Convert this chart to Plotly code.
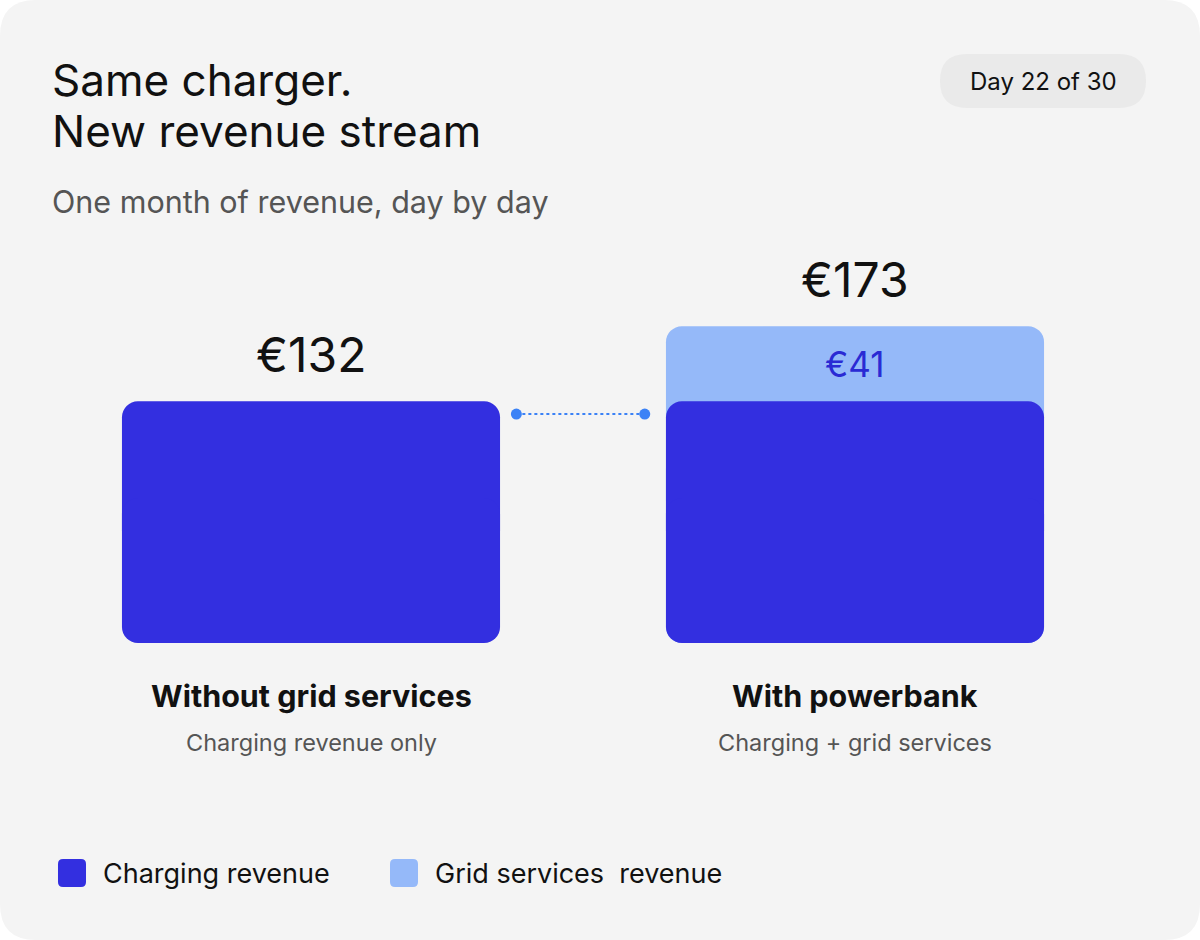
import plotly.graph_objects as go

# data
categories = ["Without grid services", "With powerbank"]
subtitles = ["Charging revenue only", "Charging + grid services"]
charging = [132, 132]
grid = [0, 41]
total = [c + g for c, g in zip(charging, grid)]

W, H = 1200, 940
DARK = "#332fe0"
LIGHT = "#95b9f9"
CARD = "#f4f4f4"
FONT = "Inter"

bar_w = 0.695
xpos = list(range(len(categories)))


def rrect(x0, y0, x1, y1, r):
    # rounded rect path given in pixels (top-left origin), drawn in paper coords
    def p(x, y):
        return f"{x / W:.5f},{1 - y / H:.5f}"
    return (f"M {p(x0 + r, y0)} L {p(x1 - r, y0)} Q {p(x1, y0)} {p(x1, y0 + r)} "
            f"L {p(x1, y1 - r)} Q {p(x1, y1)} {p(x1 - r, y1)} "
            f"L {p(x0 + r, y1)} Q {p(x0, y1)} {p(x0, y1 - r)} "
            f"L {p(x0, y0 + r)} Q {p(x0, y0)} {p(x0 + r, y0)} Z")


fig = go.Figure()


def rounded_bar(x, v, color):
    # two overlapping halves so both the top and bottom ends get rounded corners
    fig.add_trace(go.Bar(x=x, y=[0.6 * a for a in v], base=[0.4 * a for a in v], width=bar_w,
                         marker=dict(color=color, cornerradius=16, line_width=0),
                         hoverinfo="skip", showlegend=False))
    fig.add_trace(go.Bar(x=x, y=[-0.6 * a for a in v], base=[0.6 * a for a in v], width=bar_w,
                         marker=dict(color=color, cornerradius=16, line_width=0),
                         hoverinfo="skip", showlegend=False))


# grid services sits behind, charging on top
gx = [x for x, g in zip(xpos, grid) if g > 0]
gt = [t for t, g in zip(total, grid) if g > 0]
rounded_bar(gx, gt, LIGHT)
rounded_bar(xpos, charging, DARK)

# dotted link between the two charging bars
link_y = charging[0] - 7
fig.add_trace(go.Scatter(x=[xpos[0] + bar_w / 2 + 0.03, xpos[1] - bar_w / 2 - 0.039], y=[link_y, link_y],
                         mode="lines+markers", line=dict(color="#3b82f6", width=2, dash="dot"),
                         marker=dict(color="#3b82f6", size=11), hoverinfo="skip", showlegend=False))

ann = []
for i, x in enumerate(xpos):
    ann.append(dict(x=x, y=total[i], text=f"€{total[i]}", showarrow=False, yshift=47, yanchor="middle",
                    font=dict(size=48, color="#111111", family=FONT)))
    if grid[i] > 0:
        ann.append(dict(x=x, y=(charging[i] + total[i]) / 2, text=f"€{grid[i]}", showarrow=False,
                        yanchor="middle", font=dict(size=35, color="#2a2ad4", family=FONT)))
    ann.append(dict(x=x, y=1 - 695 / H, yref="paper", yanchor="middle", text=f"<b>{categories[i]}</b>",
                    showarrow=False, font=dict(size=30.5, color="#111111", family=FONT)))
    ann.append(dict(x=x, y=1 - 742 / H, yref="paper", yanchor="middle", text=subtitles[i], showarrow=False,
                    font=dict(size=23.5, color="#555555", family=FONT)))

# title, subtitle, badge
ann.append(dict(x=50 / W, y=1 - 80 / H, xref="paper", yref="paper", xanchor="left", yanchor="middle",
                text="Same charger.", showarrow=False, font=dict(size=44, color="#111111", family=FONT)))
ann.append(dict(x=50 / W, y=1 - 131 / H, xref="paper", yref="paper", xanchor="left", yanchor="middle",
                text="New revenue stream", showarrow=False, font=dict(size=44, color="#111111", family=FONT)))
ann.append(dict(x=50 / W, y=1 - 201 / H, xref="paper", yref="paper", xanchor="left", yanchor="middle",
                text="One month of revenue, day by day", showarrow=False,
                font=dict(size=30.5, color="#555555", family=FONT)))
ann.append(dict(x=1043 / W, y=1 - 81 / H, xref="paper", yref="paper", xanchor="center", yanchor="middle",
                text="Day 22 of 30", showarrow=False, font=dict(size=24, color="#111111", family=FONT)))

# legend (drawn by hand to get big rounded swatches)
legend_items = [("Charging revenue", DARK, 58), ("Grid services\u00a0 revenue", LIGHT, 390)]
shapes = [dict(type="path", xref="paper", yref="paper", path=rrect(0, 0, W, H, 36),
               fillcolor=CARD, line_width=0, layer="below"),
          dict(type="path", xref="paper", yref="paper", path=rrect(940, 54, 1146, 108, 27),
               fillcolor="#eaeaea", line_width=0, layer="below")]
for name, col, lx in legend_items:
    shapes.append(dict(type="path", xref="paper", yref="paper", path=rrect(lx, 859, lx + 28, 887, 5),
                       fillcolor=col, line_width=0))
    ann.append(dict(x=(lx + 43) / W, y=1 - 873 / H, xref="paper", yref="paper", xanchor="left",
                    yanchor="middle", text=name, showarrow=False,
                    font=dict(size=27, color="#111111", family=FONT)))

fig.update_layout(
    width=W, height=H,
    margin=dict(l=0, r=0, t=0, b=0),
    paper_bgcolor="white", plot_bgcolor="rgba(0,0,0,0)",
    barmode="overlay",
    xaxis=dict(domain=[39 / W, 1127 / W], range=[-0.5, 1.5], visible=False, fixedrange=True),
    yaxis=dict(domain=[1 - 643 / H, 1 - 295 / H], range=[0, 190], visible=False, fixedrange=True),
    annotations=ann, shapes=shapes,
    font=dict(family=FONT),
)

# drop the default page margin so the card fills the window
fig.write_html("out.html", config={"displayModeBar": False},
               post_script="document.body.style.margin='0';")
